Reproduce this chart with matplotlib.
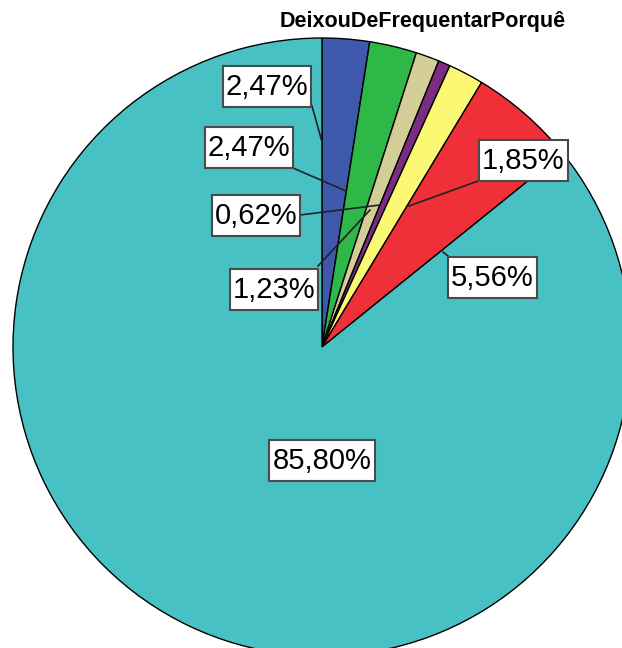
import matplotlib.pyplot as plt
from matplotlib.patches import Rectangle

plt.rcParams['font.family'] = ['Liberation Sans', 'DejaVu Sans']

title = 'DeixouDeFrequentarPorquê'
values = [2.47, 2.47, 1.23, 0.62, 1.85, 5.56, 85.80]
labels = ['2,47%', '2,47%', '1,23%', '0,62%', '1,85%', '5,56%', '85,80%']
colors = ['#3e58ac', '#2eb848', '#d3ce97', '#7b2c83', '#fbf873', '#ef3038', '#48c1c4']

# label box centres and leader line ends, in pixel coords (y down)
label_pos = [(267, 86), (249, 147), (274, 289), (256, 215), (523, 160), (492, 277), (322, 460)]
box_w = [88, 88, 88, 88, 89, 89, 106]
line_from = [(312, 106), (293, 168), (318, 266), (300, 215), (478, 181), (448, 256), None]
line_to = [(322, 142), (346, 191), (370, 210), (380, 205), (409, 206), (443, 252), None]

W, H = 622, 648


def py(y):
    return H - y


fig = plt.figure(figsize=(6.22, 6.48), dpi=100)
ax = fig.add_axes([0, 0, 1, 1])

ax.pie(values, colors=colors, startangle=90, counterclock=False,
       center=(322, py(347)), radius=309,
       wedgeprops=dict(edgecolor='black', linewidth=1.0))

for lab, pos, w, a, b in zip(labels, label_pos, box_w, line_from, line_to):
    if a is not None:
        ax.plot([a[0], b[0]], [py(a[1]), py(b[1])], color='#222222', lw=1.2, zorder=3)
    ax.add_patch(Rectangle((pos[0] - w / 2, py(pos[1]) - 20.5), w, 41,
                           facecolor='white', edgecolor='#4a4a4a', lw=1.5, zorder=4))
    ax.text(pos[0], py(pos[1] + 1), lab, ha='center', va='center', fontsize=21,
            zorder=5)

ax.text(423, py(22), title, ha='center', va='center', fontsize=15.5,
        fontweight='bold')

ax.set_xlim(0, W)
ax.set_ylim(0, H)
ax.set_aspect('equal')
ax.axis('off')

fig.savefig('out.png', dpi=100)
